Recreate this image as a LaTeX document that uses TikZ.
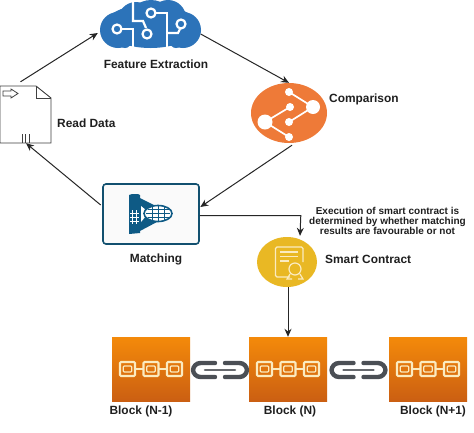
\documentclass[tikz,border=0pt]{standalone}
\usepackage{fontspec}
\setmainfont{Liberation Sans}
\usetikzlibrary{arrows.meta,shapes.geometric}
\definecolor{cloudblue}{HTML}{2C73B9}
\definecolor{compor}{HTML}{EE7A38}
\definecolor{matchblue}{HTML}{0E5A85}
\definecolor{matchedge}{HTML}{12506F}
\definecolor{goldc}{HTML}{E9B824}
\definecolor{creamc}{HTML}{FBEBC0}
\definecolor{linkgrey}{HTML}{4B4F55}
\definecolor{blocktop}{HTML}{F48A0A}
\definecolor{blockbot}{HTML}{CB5F12}
\tikzset{
  lab/.style={font=\bfseries\fontsize{11.9}{13}\selectfont,text=black!88,inner sep=0pt},
  area/.style={draw=none,fill=none,inner sep=0pt,rectangle},
  conn/.style={draw=black!85,line width=1pt},
  arr/.style={conn,-{Stealth[length=8pt,width=7pt]}},
  blockbox/.style={rectangle,inner sep=0pt,minimum width=78pt,minimum height=64pt,top color=blocktop,bottom color=blockbot},
  chainpart/.style={draw=creamc,line width=2.1pt,rounded corners=1pt},
  ringline/.style={draw=linkgrey,line width=4.4pt,line cap=round,rounded corners=7.5pt},
  chainicon/.pic={
    \foreach \xx in {-23.5,0,23.5}{
      \draw[chainpart] (\xx-7.5,-7) rectangle (\xx+7.5,7);
      \draw[chainpart,line width=1.2pt] (\xx-4.2,-3) rectangle (\xx+4.2,3);
    }
    \draw[creamc,line width=2.1pt] (-16,0)--(-7.5,0) (7.5,0)--(16,0);
  },
  linkicon/.pic={
    \draw[ringline] (-5,-7) -- (-27,-7) -- (-27,7) -- (-5,7);
    \draw[ringline] (5,-7) -- (27,-7) -- (27,7) -- (5,7);
    \draw[draw=linkgrey!85,line width=2.6pt,line cap=round] (-15,0) -- (15,0);
  }
}
\begin{document}
\begin{tikzpicture}[x=1pt,y=-1pt]
\useasboundingbox (0,0) rectangle (474,432);
\clip (0,0) rectangle (474,432);
\fill[white] (0,0) rectangle (474,432);

% cloud
\node[area,minimum width=101pt,minimum height=48pt] (cloud) at (150.5,24) {};
\fill[cloudblue] (118,30) circle[radius=18];
\fill[cloudblue] (136,20) circle[radius=18];
\fill[cloudblue] (151,24) circle[radius=24];
\fill[cloudblue] (168,18) circle[radius=18];
\fill[cloudblue] (183,30) circle[radius=18];
\fill[cloudblue] (150.5,26) ellipse[x radius=46,y radius=22];
\fill[cloudblue] (118,36) rectangle (183,46);
\fill[cloudblue] (125,42) circle[radius=6] (176,42) circle[radius=6];
\begin{scope}[draw=white,line width=2.2pt]
\draw (133,0) -- (133,21) -- (143,21) -- (146,28);
\draw (122,29) -- (133,29) -- (133,48);
\draw (156,13) -- (167,13) -- (167,48);
\draw (167,33) -- (178,33) -- (180,29);
\draw (117,29) circle[radius=4.5];
\draw (147,34) circle[radius=4.5];
\draw (151,13) circle[radius=4.5];
\draw (181,24) circle[radius=4.5];
\end{scope}
\node[lab] (cloudlab) at (156,64) {Feature Extraction};

% document
\node[area,minimum width=51pt,minimum height=57pt] (doc) at (25.5,114.5) {};
\draw[black!75,line width=0.9pt,fill=white] (0,86) -- (36,86) -- (51,98) -- (51,143) -- (0,143) -- cycle;
\draw[black!75,line width=0.9pt] (36,86) -- (36,98) -- (51,98);
\draw[black!75,line width=0.8pt] (22,134) -- (22,143) (25.5,134) -- (25.5,143) (29,134) -- (29,143);
\draw[black!75,line width=0.8pt] (3,91) -- (11,91) -- (11,89) -- (18,93.5) -- (11,98) -- (11,96) -- (3,96) -- cycle;
\node[lab,anchor=west] (doclab) at (57,123) {Read Data};

% comparison
\node[ellipse,inner sep=0pt,minimum width=76pt,minimum height=60pt,fill=compor] (comp) at (289,113) {};
\begin{scope}[white]
\draw[line width=1.7pt] (289,92) -- (313,107) -- (289,122) (290,107) -- (265,122) -- (289,137);
\fill (289,92) circle[radius=4] (313,107) circle[radius=7] (290,107) circle[radius=4]
      (289,122) circle[radius=4] (265,122) circle[radius=7.5] (289,137) circle[radius=4];
\end{scope}
\node[lab,anchor=west] (complab) at (329,99) {Comparison};

% matching
\node[rectangle,rounded corners=3pt,draw=matchedge,line width=1.6pt,fill=black!2,minimum width=96pt,minimum height=60pt,inner sep=0pt] (match) at (151,214) {};
\fill[matchblue] (129,195) -- (132,194) -- (138,194) -- (140,195) -- (140,198) -- (172,214) -- (140,231) -- (140,233) -- (129,234) -- cycle;
\draw[white,line width=0.9pt] (130,213)--(139,213) (130,217)--(139,217) (130,221)--(139,221) (132,210)--(132,224) (136,210)--(136,224);
\fill[white] (141,206) -- (141,222) -- (146,216) -- (146,210) -- cycle;
\fill[white,draw=matchblue,line width=1.6pt] (158,213.5) ellipse[x radius=14,y radius=8];
\draw[matchblue,line width=0.8pt] (146,213.5) -- (170,213.5) (147.5,209.5) -- (168.5,209.5) (147.5,217.5) -- (168.5,217.5)
  (158,206) -- (158,221) (152,206.5) -- (152,220.5) (164,206.5) -- (164,220.5);
\node[lab] (matchlab) at (156,259) {Matching};

% smart contract
\node[ellipse,inner sep=0pt,minimum width=60pt,minimum height=50pt,fill=goldc] (smart) at (287,262) {};
\begin{scope}[creamc,line width=1.2pt]
\draw[rounded corners=1.5pt] (290,277) -- (275.5,277) -- (275.5,247) -- (303,247) -- (303,262);
\draw (280,252) -- (298,252) (280,256.5) -- (298,256.5) (280,261) -- (289,261);
\draw[fill=goldc] (295,269) circle[radius=6];
\draw (290,274) -- (287,279) -- (292,279) (300,274) -- (303,279) -- (298,279);
\end{scope}
\node[lab,anchor=west] (smartlab) at (325,259) {Smart Contract};
\node[lab,align=center,font=\bfseries\fontsize{10}{10}\selectfont] (exec) at (387.5,221)
  {Execution of smart contract is\\determined by whether matching\\results are favourable or not};

% blocks
\node[blockbox] (b1) at (151,369) {};
\node[blockbox] (b2) at (288,369) {};
\node[blockbox] (b3) at (428,369) {};
\pic at (b1) {chainicon};
\pic at (b2) {chainicon};
\pic at (b3) {chainicon};
\node[area,minimum width=58pt,minimum height=20pt] (link1) at (220,370) {};
\node[area,minimum width=58pt,minimum height=20pt] (link2) at (358.5,370) {};
\pic at (link1) {linkicon};
\pic at (link2) {linkicon};
\node[lab] (b1lab) at (141,411) {Block (N-1)};
\node[lab] (b2lab) at (290,411) {Block (N)};
\node[lab] (b3lab) at (433,411) {Block (N+1)};

% connectors
\draw[arr] ([shift={(-5,-4)}]doc.north) -- ([shift={(-2,9)}]cloud.west);
\draw[arr] ([shift={(-0.5,10)}]cloud.east) -- (comp.north);
\draw[arr] ([shift={(3,2)}]comp.south) -- ([shift={(0.5,-7)}]match.east);
\draw[arr] ([shift={(-1.5,-9)}]match.west) -- ([shift={(0.5,0)}]doc.south);
\draw[arr] ([yshift=-1.5pt]match.east) -- ++(101,0) -- ([xshift=13pt,yshift=1pt]smart.north);
\draw[arr] ([xshift=1pt]smart.south) -- (b2.north);
\end{tikzpicture}
\end{document}
